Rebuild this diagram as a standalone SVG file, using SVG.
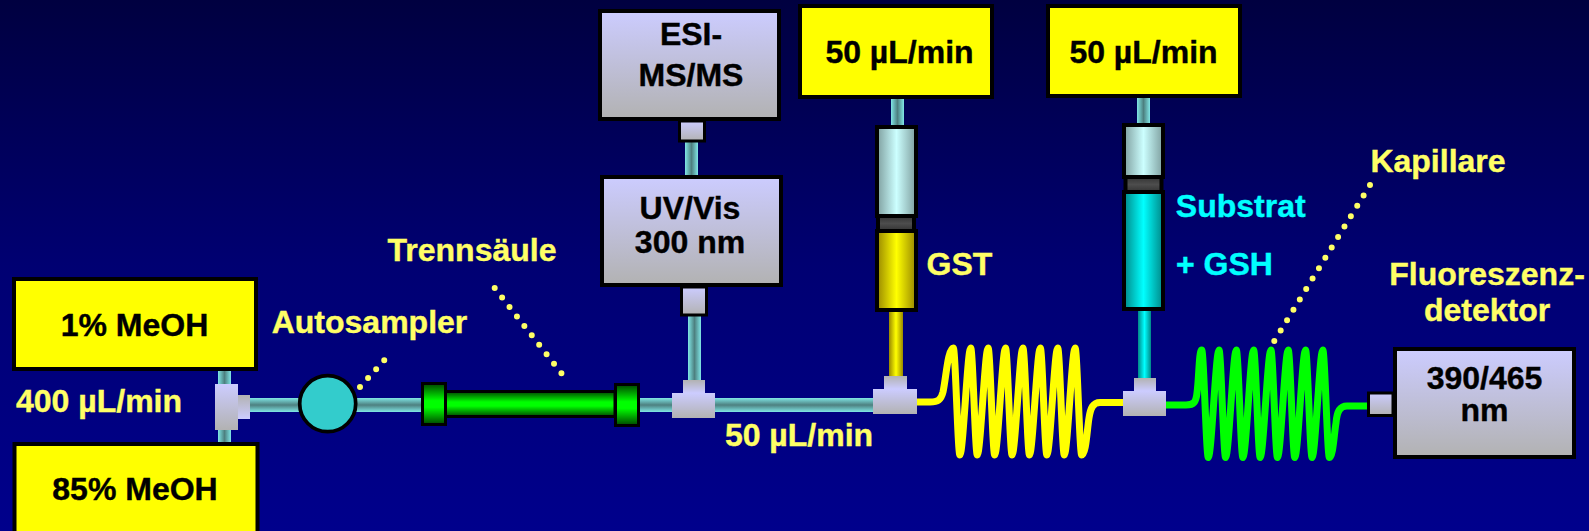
<svg xmlns="http://www.w3.org/2000/svg" width="1589" height="531" viewBox="0 0 1589 531">
<style>
text{font-family:"Liberation Sans",Arial,sans-serif;font-weight:700;font-size:32px;text-anchor:middle;stroke-width:.4}
.k{fill:#000;stroke:#000}.y{fill:#ffff66;stroke:#ffff66}.c{fill:#00ffff;stroke:#00ffff}
.box{fill:#ffff00;stroke:#000;stroke-width:4}
.gbox{fill:url(#g);stroke:#000;stroke-width:4}
.conn{fill:url(#g)}.connr{fill:url(#gr)}
.sc{fill:url(#g);stroke:#000;stroke-width:3}
.tube{fill:url(#th)}.vt{fill:url(#tv)}
.coil{fill:none;stroke-width:7;stroke-linecap:butt;stroke-linejoin:round}
.dots{fill:none;stroke:#ffff66;stroke-width:6;stroke-linecap:round}
.syr{stroke:#000;stroke-width:4}
</style>
<defs>
<linearGradient id="bg" x1="0" y1="0" x2="0" y2="1"><stop offset="0" stop-color="#000040"/><stop offset=".5" stop-color="#000072"/><stop offset="1" stop-color="#00008c"/></linearGradient>
<linearGradient id="g" x1="0" y1="0" x2="0" y2="1"><stop offset="0" stop-color="#ccccff"/><stop offset="1" stop-color="#b2b2b2"/></linearGradient>
<linearGradient id="gr" x1="0" y1="0" x2="0" y2="1"><stop offset="0" stop-color="#b2b2b2"/><stop offset="1" stop-color="#ccccff"/></linearGradient>
<linearGradient id="th" x1="0" y1="0" x2="0" y2="1"><stop offset="0" stop-color="#80e6e6"/><stop offset=".5" stop-color="#4d8080"/><stop offset="1" stop-color="#80e6e6"/></linearGradient>
<linearGradient id="tv" x1="0" y1="0" x2="1" y2="0"><stop offset="0" stop-color="#80e6e6"/><stop offset=".5" stop-color="#4d8080"/><stop offset="1" stop-color="#80e6e6"/></linearGradient>
<linearGradient id="gc" x1="0" y1="0" x2="0" y2="1"><stop offset="0" stop-color="#004400"/><stop offset=".42" stop-color="#00ff00"/><stop offset=".58" stop-color="#00ff00"/><stop offset="1" stop-color="#004400"/></linearGradient>
<linearGradient id="ty" x1="0" y1="0" x2="1" y2="0"><stop offset="0" stop-color="#998800"/><stop offset=".5" stop-color="#ffff00"/><stop offset="1" stop-color="#998800"/></linearGradient>
<linearGradient id="tc" x1="0" y1="0" x2="1" y2="0"><stop offset="0" stop-color="#008888"/><stop offset=".5" stop-color="#00ffff"/><stop offset="1" stop-color="#008888"/></linearGradient>
<linearGradient id="ts" x1="0" y1="0" x2="1" y2="0"><stop offset="0" stop-color="#7f9f9f"/><stop offset=".5" stop-color="#ccffff"/><stop offset="1" stop-color="#7f9f9f"/></linearGradient>
<linearGradient id="pis" x1="0" y1="0" x2="0" y2="1"><stop offset="0" stop-color="#333"/><stop offset=".5" stop-color="#4d4d4d"/><stop offset="1" stop-color="#333"/></linearGradient>
</defs>
<rect id="background" width="1589" height="531" fill="url(#bg)"/>
<g id="connectors">
<rect class="vt" x="218" y="369" width="13" height="75"/>
<rect class="tube" x="248" y="398" width="174" height="14"/>
<rect class="tube" x="638" y="398" width="240" height="14"/>
<rect class="vt" x="685" y="141" width="13" height="36"/>
<rect class="vt" x="688" y="315" width="13" height="66"/>
<rect class="vt" x="891" y="97" width="13" height="29"/>
<rect x="889" y="311" width="14" height="66" fill="url(#ty)"/>
<rect class="vt" x="1137" y="97" width="13" height="27"/>
<rect x="1138" y="310" width="13" height="70" fill="url(#tc)"/>
<path class="coil" stroke="#ffff00" d="M915 402H930C938 402 941 400 943 392C946 378 948 348 953.3 348c2.1 0 4.5 107 6.6 107c3.2 0 7.6-107 10.8-107c2.1 0 4.500 107 6.600 107c3.200 0 7.600-107 10.800-107c2.100 0 4.500 107 6.600 107c3.200 0 7.600-107 10.800-107c2.100 0 4.500 107 6.600 107c3.200 0 7.600-107 10.800-107c2.100 0 4.500 107 6.600 107c3.200 0 7.600-107 10.800-107c2.100 0 4.500 107 6.600 107c3.200 0 7.600-107 10.800-107c2.100 0 4.500 107 6.600 107c3.200 0 7.600-107 10.800-107c2.100 0 4.500 107 6.600 107C1086 455 1087 430 1089 418C1090.500 408 1093 402.500 1100 402.500H1125"/>
<path class="coil" stroke="#00ff00" d="M1164 405H1186C1194 405 1196 402 1197 393C1199 378 1199 350 1201.700 350c2.100 0 4.500 107.500 6.600 107.500c3.200 0 7.500-107.500 10.700-107.500c2.100 0 4.500 107.500 6.600 107.500c3.200 0 7.500-107.500 10.700-107.500c2.100 0 4.500 107.500 6.600 107.500c3.200 0 7.500-107.500 10.700-107.500c2.100 0 4.500 107.500 6.600 107.500c3.200 0 7.500-107.500 10.700-107.500c2.100 0 4.500 107.500 6.600 107.500c3.200 0 7.500-107.500 10.700-107.500c2.100 0 4.500 107.500 6.600 107.500c3.200 0 7.500-107.500 10.700-107.500c2.100 0 4.500 107.500 6.600 107.500c3.200 0 7.500-107.500 10.700-107.500c2.100 0 4.500 107.500 6.600 107.500C1333 457.500 1334 435 1336 423C1337 411 1340 406 1347 406H1369"/>
<line class="dots" x1="360" y1="387" x2="392.300" y2="351.300" stroke-dasharray="0 12.04"/>
<line class="dots" x1="494.700" y1="288" x2="568.800" y2="382.700" stroke-dasharray="0 12.03"/>
<line class="dots" x1="1274.300" y1="341" x2="1370" y2="185" stroke-dasharray="0 12.2"/>
</g>
<g id="pump-a"><rect class="box" x="14" y="279" width="242" height="90"/><text class="k" x="134.500" y="336">1% MeOH</text></g>
<g id="pump-b"><rect class="box" x="14.500" y="444" width="243" height="120"/><text class="k" x="135" y="500">85% MeOH</text></g>
<text id="flow-400" class="y" x="99" y="412">400 µL/min</text>
<g id="mixer"><rect class="conn" x="215" y="384" width="23" height="46"/><rect class="connr" x="238" y="395" width="12" height="24"/></g>
<g id="autosampler"><circle cx="327.700" cy="403.700" r="28" fill="#33cccc" stroke="#000" stroke-width="3.700"/><text class="y" x="369.500" y="333">Autosampler</text></g>
<g id="column">
<rect x="445" y="391.500" width="170" height="25" fill="url(#gc)" stroke="#000" stroke-width="3"/>
<rect x="422.500" y="383.500" width="23" height="41" fill="url(#gc)" stroke="#000" stroke-width="3"/>
<rect x="615.500" y="384.500" width="23" height="41" fill="url(#gc)" stroke="#000" stroke-width="3"/>
<text class="y" x="472" y="261">Trennsäule</text>
</g>
<g id="tee-1"><rect class="connr" x="683" y="380" width="22" height="13"/><rect class="conn" x="672" y="393" width="43" height="25"/></g>
<text id="flow-50" class="y" x="799" y="446">50 µL/min</text>
<g id="tee-2"><rect class="connr" x="884" y="376" width="23" height="13"/><rect class="conn" x="873" y="389" width="44" height="25"/></g>
<g id="tee-3"><rect class="connr" x="1134" y="378" width="22" height="13"/><rect class="conn" x="1123" y="391" width="43" height="25"/></g>
<g id="esi-ms"><rect class="gbox" x="600" y="11" width="179" height="108"/><rect class="sc" x="679.500" y="121" width="25" height="20"/><text class="k"><tspan x="691" y="45">ESI-</tspan><tspan x="691" y="86">MS/MS</tspan></text></g>
<g id="uv-vis"><rect class="gbox" x="602" y="177" width="179" height="108"/><rect class="sc" x="681.500" y="287" width="25" height="28"/><text class="k"><tspan x="690" y="219">UV/Vis</tspan><tspan x="690" y="253">300 nm</tspan></text></g>
<g id="pump-gst"><rect class="box" x="800" y="6" width="192" height="91"/><text class="k" x="899.500" y="63">50 µL/min</text></g>
<g id="syringe-gst">
<rect class="syr" x="877" y="127" width="39" height="89" fill="url(#ts)"/>
<rect class="syr" x="877" y="231" width="39" height="79" fill="url(#ty)"/>
<rect class="syr" x="878" y="216" width="36" height="15" fill="url(#pis)"/>
<text class="y" x="959.500" y="275">GST</text>
</g>
<g id="pump-substrat"><rect class="box" x="1048" y="6" width="192" height="90"/><text class="k" x="1143.500" y="63">50 µL/min</text></g>
<g id="syringe-substrat">
<rect class="syr" x="1124" y="125" width="39" height="52" fill="url(#ts)"/>
<rect class="syr" x="1124" y="192" width="39" height="117" fill="url(#tc)"/>
<rect class="syr" x="1125.500" y="177" width="36" height="15" fill="url(#pis)"/>
<text class="c" x="1240.700" y="217">Substrat</text>
<text class="c" x="1224.500" y="275">+ GSH</text>
</g>
<text id="capillary-label" class="y" x="1438" y="172">Kapillare</text>
<g id="detector"><rect class="gbox" x="1395" y="349" width="179" height="108"/><rect class="sc" x="1368.500" y="393" width="24.500" height="22.500"/><text class="k"><tspan x="1484.500" y="389">390/465</tspan><tspan x="1484.500" y="421">nm</tspan></text><text class="y"><tspan x="1487" y="285">Fluoreszenz-</tspan><tspan x="1487" y="321">detektor</tspan></text></g>
</svg>
